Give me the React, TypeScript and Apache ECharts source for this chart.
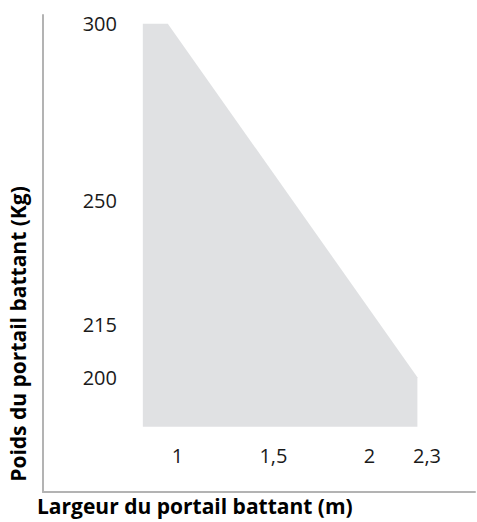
import React, { useEffect, useRef } from "react";
import * as echarts from "echarts";

const widths = [0.82, 0.95, 2.25, 2.25, 0.82];
const weights = [300, 300, 200, 186, 186];
const xTicks = [1, 1.5, 2, 2.3];
const xTickLabels = ["1", "1,5", "2", "2,3"];
const yTicks = [300, 250, 215, 200];
const yTickLabels = ["300", "250", "215", "200"];
const xTitle = "Largeur du portail battant (m)";
const yTitle = "Poids du portail battant (Kg)";

const FONT = "'Open Sans', sans-serif";

export default function App() {
  const ref = useRef<HTMLDivElement>(null);
  useEffect(() => {
    if (!ref.current) return;
    const chart = echarts.init(ref.current, null, { renderer: "svg" });
    chart.setOption({
      animation: false,
      grid: { left: 43, right: 2, top: 15, bottom: 30 },
      xAxis: {
        type: "value",
        min: 0.3,
        max: 2.55,
        splitLine: { show: false },
        axisLine: { show: true, lineStyle: { color: "#b3b3b3", width: 2 } },
        axisTick: { show: false },
        axisLabel: {
          inside: true,
          margin: 27,
          customValues: xTicks,
          formatter: (v: number) => xTickLabels[xTicks.indexOf(v)] ?? "",
          color: "#1a1a1a",
          fontSize: 20,
          fontFamily: FONT,
        },
      },
      yAxis: {
        type: "value",
        min: 167.5,
        max: 302.5,
        splitLine: { show: false },
        axisLine: { show: true, lineStyle: { color: "#b3b3b3", width: 2 } },
        axisTick: { show: false },
        axisLabel: {
          inside: true,
          margin: 74,
          align: "right",
          customValues: yTicks,
          formatter: (v: number) => yTickLabels[yTicks.indexOf(v)] ?? "",
          color: "#1a1a1a",
          fontSize: 20,
          fontFamily: FONT,
        },
      },
      series: [
        {
          type: "custom",
          data: widths.map((w, i) => [w, weights[i]]),
          renderItem: (params: any, api: any) => {
            if (params.dataIndex !== 0) return null;
            const pts = widths.map((w, i) => api.coord([w, weights[i]]));
            return {
              type: "polygon",
              shape: { points: pts },
              style: { fill: "#e0e1e3" },
            };
          },
        },
      ],
      graphic: [
        {
          type: "text",
          left: 37,
          top: 495,
          style: {
            text: xTitle,
            fontSize: 21,
            fontWeight: "bold",
            fontFamily: FONT,
            fill: "#000",
          },
        },
        {
          type: "text",
          x: 18,
          y: 334,
          rotation: Math.PI / 2,
          style: {
            text: yTitle,
            fontSize: 21,
            fontWeight: "bold",
            fontFamily: FONT,
            fill: "#000",
            align: "center",
            verticalAlign: "middle",
          },
        },
      ],
    });
    return () => chart.dispose();
  }, []);
  return (
    <div
      ref={ref}
      style={{ position: "absolute", left: 0, top: 0, width: 477, height: 522 }}
    />
  );
}
